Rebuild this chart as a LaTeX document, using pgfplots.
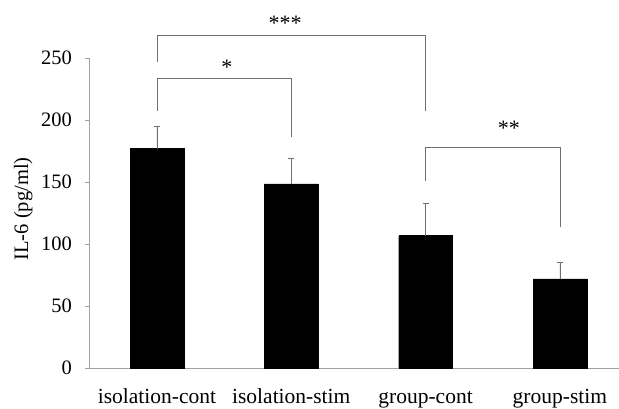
\documentclass[border=0pt]{standalone}
\usepackage{fontspec}
\setmainfont{Liberation Serif}
\usepackage{pgfplots}
\pgfplotsset{compat=1.18}
\definecolor{axgray}{HTML}{A0A0A0}
\definecolor{brgray}{HTML}{707070}
\begin{document}
\begin{tikzpicture}
\useasboundingbox (-89pt,-41pt) rectangle (530pt,368pt);
\begin{axis}[
  at={(0,0)}, anchor=south west,
  scale only axis,
  width=530pt, height=310pt,
  xmin=-0.506, xmax=3.44,
  ymin=0, ymax=250,
  clip=false,
  axis x line=bottom, axis y line=left,
  axis line style={axgray, line width=0.8pt, -},
  xtick={0,1,2,3},
  xticklabels={isolation-cont,isolation-stim,group-cont,group-stim},
  xtick style={draw=none},
  ytick={0,50,100,150,200,250},
  ytick style={axgray, line width=0.8pt},
  tick align=outside,
  major tick length=4pt,
  /pgf/number format/assume math mode=true,
  xticklabel style={font=\fontsize{21.5}{25}\selectfont, anchor=base, inner sep=0pt, yshift=-32pt},
  yticklabel style={font=\fontsize{20.5}{24}\selectfont, anchor=east, inner sep=0pt, xshift=-13pt},
  ylabel={IL-6 (pg/ml)},
  ylabel style={font=\fontsize{20.5}{24}\selectfont, at={(axis description cs:-0.124,0.513)}, anchor=center, inner sep=0pt},
]
\addplot[ybar, bar width=0.4, fill=black, draw=black,
  error bars/.cd, y dir=plus, y explicit,
  error bar style={brgray, line width=0.8pt},
  error mark options={brgray, rotate=90, mark size=3pt, line width=0.8pt}]
  coordinates {
  (0,177) +- (0,17.5)
  (1,148.4) +- (0,21)
  (2,106.7) +- (0,26.3)
  (3,71.8) +- (0,13.2)
  };
% significance brackets
\addplot[brgray, line width=0.8pt, mark=none] coordinates {(0,247) (0,268) (1.997,268) (1.997,207.5)};
\addplot[brgray, line width=0.8pt, mark=none] coordinates {(0,207.5) (0,233.6) (1,233.6) (1,186)};
\addplot[brgray, line width=0.8pt, mark=none] coordinates {(2,151) (2,178) (3,178) (3,113.7)};
\node[font=\fontsize{22}{26}\selectfont, anchor=base, inner sep=0pt] at (axis cs:0.954,272.5) {***};
\node[font=\fontsize{22}{26}\selectfont, anchor=base, inner sep=0pt] at (axis cs:0.52,237) {*};
\node[font=\fontsize{22}{26}\selectfont, anchor=base, inner sep=0pt] at (axis cs:2.62,187.5) {**};
\end{axis}
\end{tikzpicture}
\end{document}
